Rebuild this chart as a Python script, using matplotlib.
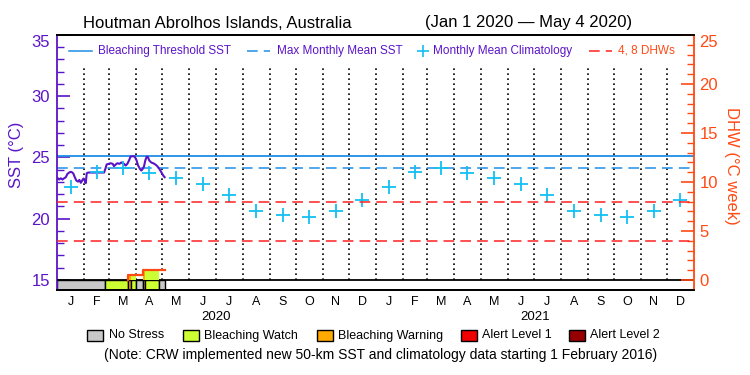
import numpy as np
import matplotlib
matplotlib.use("Agg")
import matplotlib.pyplot as plt
from matplotlib.patches import Rectangle

plt.rcParams['font.family'] = ['Liberation Sans', 'DejaVu Sans']

# Datos (dias desde 1 ene 2020)
sst_day = [0.5, 2.4, 4.4, 6.3, 8.2, 10.1, 12.0, 13.9, 15.8, 17.7, 18.9, 20.4, 22.3, 24.2,
           25.7, 27.3, 28.8, 30.3, 31.8, 33.0, 34.1, 35.7, 54.0, 55.5, 57.0, 59.3, 61.6,
           63.9, 65.4, 67.4, 69.3, 71.6, 73.8, 76.9, 78.8, 80.7, 82.6, 84.5, 86.8, 89.1,
           91.4, 92.9, 95.2, 96.8, 98.3, 99.8, 101.3, 102.9, 104.4, 105.9, 108.2, 110.5,
           112.8, 115.1, 117.4, 119.7, 122.0, 123.5]
sst_val = [23.33, 23.2, 23.3, 23.2, 23.3, 23.39, 23.66, 23.77, 23.83, 23.77, 23.66, 23.39,
           23.11, 23.03, 23.17, 22.93, 23.11, 23.28, 23.11, 22.9, 23.71, 23.77, 23.77, 24.07,
           24.43, 24.48, 24.53, 24.48, 24.29, 24.43, 24.53, 24.48, 24.59, 24.48, 24.34,
           24.48, 24.75, 25.08, 25.1, 25.08, 24.75, 24.37, 24.07, 23.93, 24.07, 24.26,
           24.75, 25.06, 25.03, 24.75, 24.59, 24.53, 24.43, 24.29, 24.07, 23.8, 23.52, 23.39]

clim_sst = [22.6, 23.8, 24.15, 23.72, 23.32, 22.84, 21.95, 20.6, 20.3, 20.1, 20.6, 21.53]
mmm = 24.15
threshold = 25.15
dhw_lines = [4, 8]

# DHW (cambios de nivel)
dhw_day = [81.5, 99.0]
dhw_val = [0.5, 1.0]
dhw_end = 124.5

# Niveles de estres: 0 sin estres, 1 watch, 2 warning, 3 alerta 1, 4 alerta 2
stress_start = [0, 55, 81.5, 84.5, 91, 99, 101.5, 116.5]
stress_end = [55, 81.5, 84.5, 91, 99, 101.5, 116.5, 124.5]
stress_level = [0, 1, 2, 1, 0, 2, 1, 0]

month_letters = ['J', 'F', 'M', 'A', 'M', 'J', 'J', 'A', 'S', 'O', 'N', 'D'] * 2
years = ['2020', '2021']
legend_names = ['No Stress', 'Bleaching Watch', 'Bleaching Warning', 'Alert Level 1', 'Alert Level 2']
stress_colors = ['#c8c8c8', '#ccff33', '#ffaa00', '#f00000', '#960000']

purple = '#5a14c8'
blue = '#1e8ee6'
cyan = '#12c0f2'
red = '#ff2020'
orange = '#ff4a14'

# Meses
months = np.arange('2020-01', '2022-02', dtype='datetime64[M]').astype('datetime64[D]')
month_start = (months - np.datetime64('2020-01-01')).astype(int)
month_mid = (month_start[:-1] + month_start[1:]) / 2
year_mid = [(month_start[0] + month_start[12]) / 2, (month_start[12] + month_start[24]) / 2]

fig = plt.figure(figsize=(7.5, 3.75), dpi=100)
ax = fig.add_axes([57 / 750, 1 - 290 / 375, 637 / 750, 255 / 375])
ax2 = ax.twinx()

ax.set_xlim(0, month_start[-1])
ax.set_ylim(14.18, 35)
ax2.set_ylim(-1.02, 25)

# Lineas verticales punteadas en cada mes
ax.vlines(month_start[1:-1], 15, 32.47, colors='black', linestyles=(0, (1, 2)), linewidth=1.2)

ax.axhline(threshold, color=blue, linewidth=1.3)
ax.axhline(mmm, color=blue, linewidth=1.1, dashes=(7, 4))
ax2.axhline(dhw_lines[0], color=red, linewidth=1.1, dashes=(7, 4))
ax2.axhline(dhw_lines[1], color=red, linewidth=1.1, dashes=(7, 4))

# Barras de estres
for s, e, lv in zip(stress_start, stress_end, stress_level):
    ax.bar(s, 15 - 14.18, e - s, 14.18, align='edge',
           color=stress_colors[lv], edgecolor='black', linewidth=1, zorder=2)
ax.axhline(15, color='black', linewidth=1.3, zorder=3)

# Relleno del DHW segun nivel
for s, e, lv in zip(stress_start, stress_end, stress_level):
    if lv == 0:
        continue
    nivel = 0
    for d, v in zip(dhw_day, dhw_val):
        if d <= s:
            nivel = v
    ax2.bar(s, nivel, e - s, 0, align='edge',
            color=stress_colors[lv], linewidth=0, zorder=2)
ax2.step([dhw_day[0]] + dhw_day + [dhw_end], [0] + dhw_val + [dhw_val[-1]],
         where='post', color=orange, linewidth=1.6, zorder=3)

# SST y climatologia
ax.plot(sst_day, sst_val, color=purple, linewidth=1.5, zorder=4)
ax.plot(month_mid, np.tile(clim_sst, 2), linestyle='none', marker='+',
        markersize=10, markeredgewidth=1.3, color=cyan, zorder=4)

# Ejes
ax.set_xticks(month_mid)
ax.set_xticklabels(month_letters, fontsize=9)
ax.tick_params(axis='x', length=0, pad=4)
for x, y in zip(year_mid, years):
    ax.text(x, -0.083, y, transform=ax.get_xaxis_transform(), ha='center', va='top', fontsize=9.5)

ax.set_yticks([15, 20, 25, 30, 35])
ax.set_yticks(np.arange(15, 36, 1), minor=True)
ax.tick_params(axis='y', which='major', direction='in', length=9.5, width=1.2,
               color=purple, labelcolor=purple, labelsize=12, pad=5)
ax.tick_params(axis='y', which='minor', direction='in', length=5, width=1, color=purple)
ax.get_yticklabels()[-1].set_va('top')

ax2.set_yticks([0, 5, 10, 15, 20, 25])
ax2.set_yticks(np.arange(0, 26, 1), minor=True)
ax2.tick_params(axis='y', which='major', direction='in', length=9.5, width=1.2,
                color=orange, labelcolor=orange, labelsize=12, pad=4)
ax2.tick_params(axis='y', which='minor', direction='in', length=5, width=1, color=orange)
ax2.get_yticklabels()[-1].set_va('top')

ax.spines['left'].set_color(purple)
ax.spines['left'].set_linewidth(1.3)
ax.spines['right'].set_visible(False)
ax2.spines['left'].set_visible(False)
ax2.spines['right'].set_color(orange)
ax2.spines['right'].set_linewidth(1.3)
for sp in ['top', 'bottom']:
    ax.spines[sp].set_linewidth(1.3)
    ax2.spines[sp].set_linewidth(1.3)

fig.text(17 / 750, 1 - 155 / 375, 'SST (°C)', rotation=90, ha='center', va='center',
         color=purple, fontsize=12)
fig.text(732 / 750, 1 - 166 / 375, 'DHW (°C week)', rotation=-90, ha='center', va='center',
         color=orange, fontsize=12)

# Titulo
fig.text(83 / 750, 1 - 23 / 375, 'Houtman Abrolhos Islands, Australia', ha='left', va='center', fontsize=12)
fig.text(425 / 750, 1 - 23 / 375, '(Jan 1 2020 \u2014 May 4 2020)', ha='left', va='center', fontsize=12)

# Leyenda superior
ly = 0.9384
ax.plot([0.0188, 0.0549], [ly, ly], transform=ax.transAxes, color=blue, linewidth=1.1, clip_on=False)
ax.text(0.0648, ly, 'Bleaching Threshold SST', transform=ax.transAxes, va='center', color=purple, fontsize=8.5)
ax.plot([0.2983, 0.3344], [ly, ly], transform=ax.transAxes, color=blue, linewidth=1.1, dashes=(7, 4), clip_on=False)
ax.text(0.3449, ly, 'Max Monthly Mean SST', transform=ax.transAxes, va='center', color=purple, fontsize=8.5)
ax.plot([0.5741], [ly], transform=ax.transAxes, marker='+', markersize=8, markeredgewidth=1.2,
        color=cyan, clip_on=False)
ax.text(0.5908, ly, 'Monthly Mean Climatology', transform=ax.transAxes, va='center', color=purple, fontsize=8.5)
ax.plot([0.8352, 0.8718], [ly, ly], transform=ax.transAxes, color=red, linewidth=1.1, dashes=(7, 4), clip_on=False)
ax.text(0.8812, ly, '4, 8 DHWs', transform=ax.transAxes, va='center', color=orange, fontsize=8.5)

# Leyenda inferior
box_x = [87.3, 183.3, 317.3, 461, 569.3]
text_x = [109.3, 204.3, 338, 482.3, 590]
for bx, tx, name, c in zip(box_x, text_x, legend_names, stress_colors):
    fig.add_artist(Rectangle((bx / 750, 1 - 340.7 / 375), 16 / 750, 10.7 / 375,
                             facecolor=c, edgecolor='black', linewidth=1, transform=fig.transFigure))
    fig.text(tx / 750, 1 - 335.5 / 375, name, ha='left', va='center', fontsize=9)

fig.text(380.5 / 750, 1 - 355 / 375,
         '(Note: CRW implemented new 50-km SST and climatology data starting 1 February 2016)',
         ha='center', va='center', fontsize=10)

fig.savefig('out.png', dpi=100)
